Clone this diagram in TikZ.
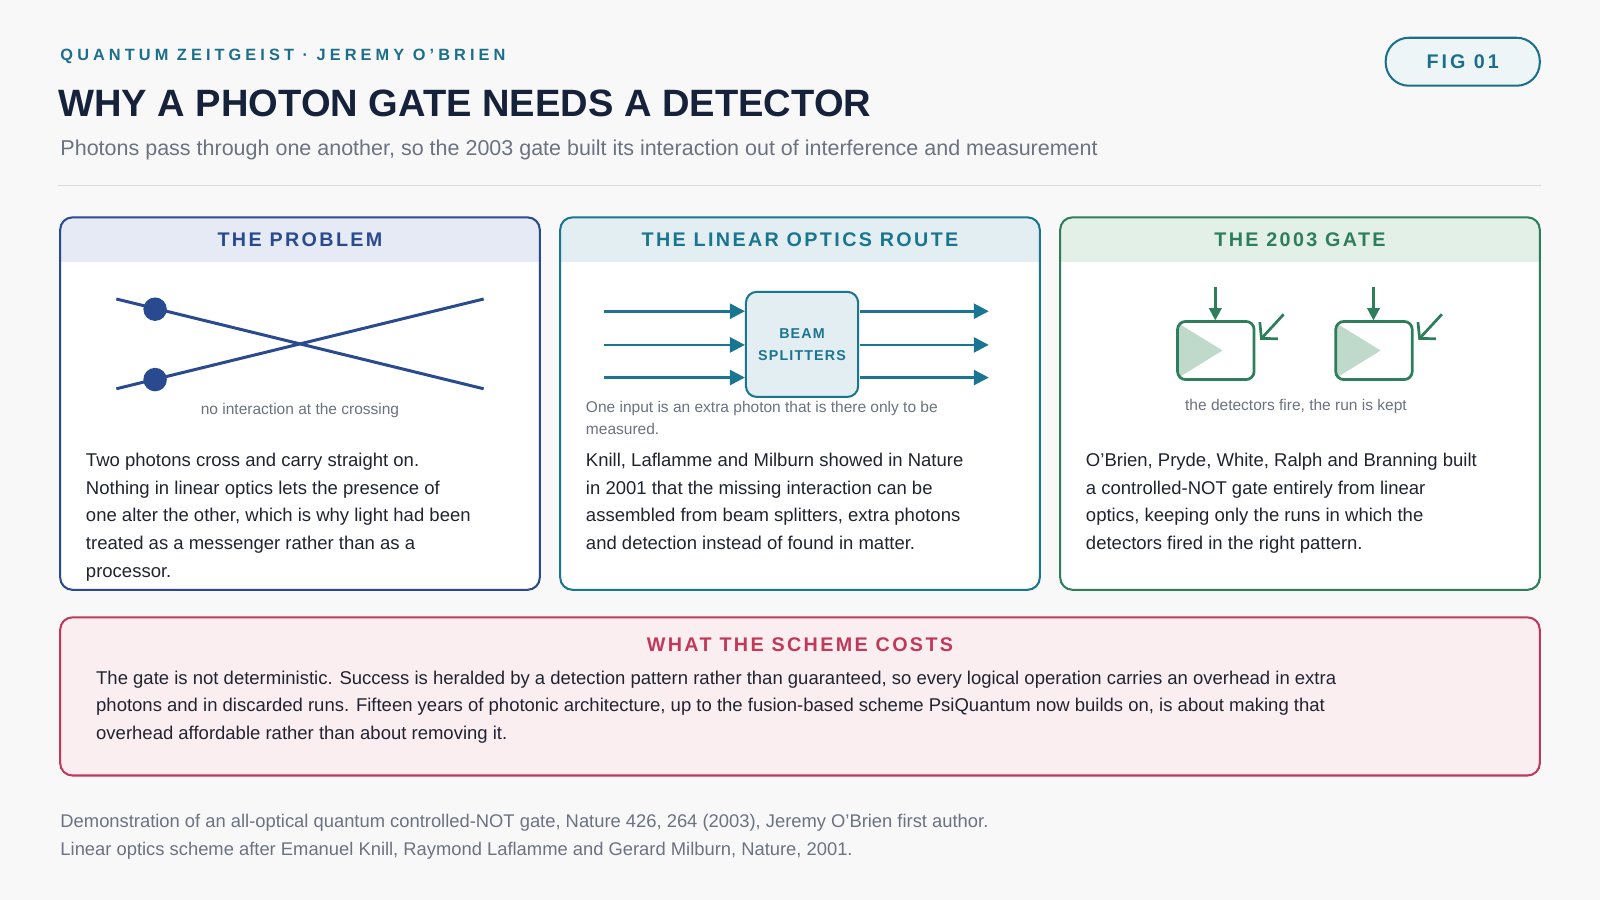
\documentclass[tikz,border=0pt]{standalone}
\usepackage{fontspec}
\setmainfont{Liberation Sans}
\usetikzlibrary{arrows.meta}
\definecolor{bg}{HTML}{F8F8F9}
\definecolor{teal}{HTML}{1B6F8C}
\definecolor{navy}{HTML}{16213A}
\definecolor{gry}{HTML}{6B7280}
\definecolor{pblue}{HTML}{2A4A8F}
\definecolor{pbluef}{HTML}{E5EAF5}
\definecolor{pteal}{HTML}{1A7590}
\definecolor{ptealf}{HTML}{E3EEF2}
\definecolor{pgreen}{HTML}{2E7D5B}
\definecolor{pgreenf}{HTML}{E3F0E7}
\definecolor{tri}{HTML}{BFD9CB}
\definecolor{red}{HTML}{C0395A}
\definecolor{redf}{HTML}{FBEEF1}
\definecolor{body}{HTML}{1F2430}
\tikzset{
 panel/.style={draw=#1,line width=1.5pt,rounded corners=9pt,fill=white},
 hdr/.style={font=\bfseries\fontsize{14.5}{17}\selectfont\addfontfeatures{LetterSpace=12},text=#1},
 bodytxt/.style={anchor=north west,align=left,text=body,font=\fontsize{13.6}{20.3}\selectfont,inner sep=0pt},
 captxt/.style={text=gry,font=\fontsize{11.4}{16}\selectfont,inner sep=0pt},
 foot/.style={anchor=west,text=gry,font=\fontsize{13.5}{16}\selectfont,inner sep=0pt},
 tarr/.style={draw=pteal,line width=2pt,-{Triangle[length=11pt,width=11pt]}},
 garr/.style={draw=pgreen,line width=2pt,-{Triangle[length=9pt,width=9pt]}},
 oarr/.style={draw=pgreen,line width=2pt,-{Straight Barb[length=8pt,width=18pt]}},
}
\begin{document}
\begin{tikzpicture}[x=0.75pt,y=-0.75pt]
\fill[bg] (0,0) rectangle (1568,882);
\useasboundingbox (0,0) rectangle (1568,882);
\node[anchor=west,inner sep=0pt,text=teal,font=\bfseries\fontsize{12}{14}\selectfont\addfontfeatures{LetterSpace=25}] (kick) at (59,55) {QUANTUM ZEITGEIST · JEREMY O’BRIEN};
\node[anchor=west,inner sep=0pt,text=navy,font=\bfseries\fontsize{28}{32}\selectfont] (title) at (57,101) {WHY A PHOTON GATE NEEDS A DETECTOR};
\node[anchor=west,inner sep=0pt,text=gry,font=\fontsize{15.8}{18}\selectfont] (sub) at (59,147) {Photons pass through one another, so the 2003 gate built its interaction out of interference and measurement};
\draw[draw=black!15,line width=0.8pt] (57,182) -- (1510,182);
\node[draw=teal,line width=1.5pt,fill=ptealf!60,rounded corners=17pt,minimum width=151*0.75pt,minimum height=47*0.75pt,text=teal,font=\bfseries\fontsize{14.5}{17}\selectfont\addfontfeatures{LetterSpace=15}] (fig) at (1433.5,60.5) {FIG 01};
% panels
\foreach \x/\c/\f in {59/pblue/pbluef,549/pteal/ptealf,1039/pgreen/pgreenf}{
 \begin{scope}
 \clip[rounded corners=9pt] (\x,213) rectangle (\x+470,578);
 \fill[white] (\x,213) rectangle (\x+470,578);
 \fill[\f] (\x,213) rectangle (\x+470,257);
 \end{scope}
 \draw[panel=\c,fill=none] (\x,213) rectangle (\x+470,578);
}
\node[hdr=pblue] (h1) at (294,235) {THE PROBLEM};
\node[hdr=pteal] (h2) at (784,235) {THE LINEAR OPTICS ROUTE};
\node[hdr=pgreen] (h3) at (1274,235) {THE 2003 GATE};
% panel 1
\coordinate (a1) at (114,293); \coordinate (b1) at (474,381);
\coordinate (a2) at (114,381); \coordinate (b2) at (474,293);
\draw[pblue,line width=2.2pt] (a1) -- (b1);
\draw[pblue,line width=2.2pt] (a2) -- (b2);
\fill[pblue] (152,303) circle (11.5);
\fill[pblue] (152,372) circle (11.5);
\node[captxt] (c1) at (294,402) {no interaction at the crossing};
\node[bodytxt] (t1) at (84,444) {Two photons cross and carry straight on.\\Nothing in linear optics lets the presence of\\one alter the other, which is why light had been\\treated as a messenger rather than as a\\processor.};
% panel 2
\node[draw=pteal,line width=1.5pt,fill=ptealf,rounded corners=8pt,minimum width=110*0.75pt,minimum height=103*0.75pt,align=center,text=pteal,font=\bfseries\fontsize{10.5}{16}\selectfont\addfontfeatures{LetterSpace=8}] (bs) at (786,337.5) {BEAM\\SPLITTERS};
\foreach \y/\n in {305/1,338/2,370/3}{
 \coordinate (l\n) at (592,\y); \coordinate (li\n) at (730,\y);
 \coordinate (r\n) at (843,\y); \coordinate (ro\n) at (969,\y);
 \draw[tarr] (l\n) -- (li\n);
 \draw[tarr] (r\n) -- (ro\n);
}
\node[captxt,anchor=north west,align=left,font=\fontsize{11.4}{16.5}\selectfont] (c2) at (574,393) {One input is an extra photon that is there only to be\\measured.};
\node[bodytxt] (t2) at (574,444) {Knill, Laflamme and Milburn showed in Nature\\in 2001 that the missing interaction can be\\assembled from beam splitters, extra photons\\and detection instead of found in matter.};
% panel 3
\foreach \x/\n in {1154/1,1309/2}{
 \fill[tri] (\x+1,317) -- (\x+44,343.5) -- (\x+1,370) -- cycle;
 \node[draw=pgreen,line width=2pt,rounded corners=6pt,minimum width=75*0.75pt,minimum height=57*0.75pt,inner sep=0pt] (d\n) at (\x+37.5,343.5) {};
 \coordinate (dt\n) at (\x+37,281);
 \coordinate (dd\n) at (\x+37,314);
 \coordinate (os\n) at (\x+104,308);
 \coordinate (oe\n) at (\x+81,333);
 \draw[garr] (dt\n) -- (dd\n);
 \draw[oarr] (os\n) -- (oe\n);
}
\node[captxt] (c3) at (1270,398) {the detectors fire, the run is kept};
\node[bodytxt] (t3) at (1064,444) {O’Brien, Pryde, White, Ralph and Branning built\\a controlled-NOT gate entirely from linear\\optics, keeping only the runs in which the\\detectors fired in the right pattern.};
% bottom
\draw[draw=red,line width=1.5pt,fill=redf,rounded corners=9pt] (59,605) rectangle (1509,760);
\node[hdr=red] (h4) at (784,632) {WHAT THE SCHEME COSTS};
\node[bodytxt] (t4) at (94,657) {The gate is not deterministic. Success is heralded by a detection pattern rather than guaranteed, so every logical operation carries an overhead in extra\\photons and in discarded runs. Fifteen years of photonic architecture, up to the fusion-based scheme PsiQuantum now builds on, is about making that\\overhead affordable rather than about removing it.};
\node[foot] (f1) at (59,806) {Demonstration of an all-optical quantum controlled-NOT gate, Nature 426, 264 (2003), Jeremy O’Brien first author.};
\node[foot] (f2) at (59,834) {Linear optics scheme after Emanuel Knill, Raymond Laflamme and Gerard Milburn, Nature, 2001.};
\end{tikzpicture}
\end{document}
